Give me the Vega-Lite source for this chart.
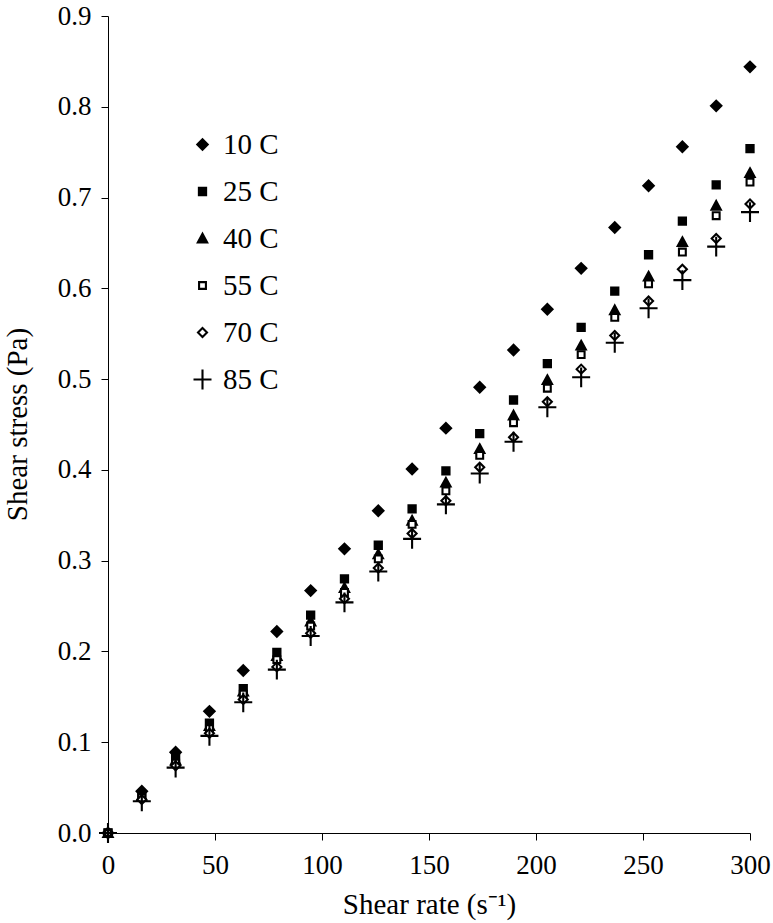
{
  "$schema": "https://vega.github.io/schema/vega-lite/v6.json",
  "autosize": "none",
  "padding": {"left": 108, "top": 16, "right": 23, "bottom": 90},
  "width": 642,
  "height": 817,
  "background": "white",
  "config": {
    "view": {"stroke": null},
    "font": "Liberation Serif",
    "axis": {
      "grid": false,
      "domainColor": "black",
      "domainWidth": 1,
      "tickColor": "black",
      "tickWidth": 1,
      "tickSize": 7,
      "labelColor": "black",
      "labelFont": "Liberation Serif",
      "labelFontSize": 27,
      "labelFlush": false,
      "labelOverlap": false,
      "titleColor": "black",
      "titleFont": "Liberation Serif",
      "titleFontSize": 29,
      "titleFontWeight": "normal"
    }
  },
  "data": {
    "values": [
      {"rate": 0, "stress": 0, "temp": "10 C"},
      {"rate": 15.8, "stress": 0.046, "temp": "10 C"},
      {"rate": 31.6, "stress": 0.089, "temp": "10 C"},
      {"rate": 47.4, "stress": 0.134, "temp": "10 C"},
      {"rate": 63.2, "stress": 0.179, "temp": "10 C"},
      {"rate": 78.9, "stress": 0.222, "temp": "10 C"},
      {"rate": 94.7, "stress": 0.267, "temp": "10 C"},
      {"rate": 110.5, "stress": 0.313, "temp": "10 C"},
      {"rate": 126.3, "stress": 0.355, "temp": "10 C"},
      {"rate": 142.1, "stress": 0.401, "temp": "10 C"},
      {"rate": 157.9, "stress": 0.446, "temp": "10 C"},
      {"rate": 173.7, "stress": 0.491, "temp": "10 C"},
      {"rate": 189.5, "stress": 0.532, "temp": "10 C"},
      {"rate": 205.3, "stress": 0.577, "temp": "10 C"},
      {"rate": 221.1, "stress": 0.622, "temp": "10 C"},
      {"rate": 236.8, "stress": 0.667, "temp": "10 C"},
      {"rate": 252.6, "stress": 0.713, "temp": "10 C"},
      {"rate": 268.4, "stress": 0.756, "temp": "10 C"},
      {"rate": 284.2, "stress": 0.801, "temp": "10 C"},
      {"rate": 300, "stress": 0.844, "temp": "10 C"},

      {"rate": 0, "stress": 0, "temp": "25 C"},
      {"rate": 15.8, "stress": 0.041, "temp": "25 C"},
      {"rate": 31.6, "stress": 0.082, "temp": "25 C"},
      {"rate": 47.4, "stress": 0.121, "temp": "25 C"},
      {"rate": 63.2, "stress": 0.159, "temp": "25 C"},
      {"rate": 78.9, "stress": 0.199, "temp": "25 C"},
      {"rate": 94.7, "stress": 0.240, "temp": "25 C"},
      {"rate": 110.5, "stress": 0.280, "temp": "25 C"},
      {"rate": 126.3, "stress": 0.317, "temp": "25 C"},
      {"rate": 142.1, "stress": 0.357, "temp": "25 C"},
      {"rate": 157.9, "stress": 0.399, "temp": "25 C"},
      {"rate": 173.7, "stress": 0.440, "temp": "25 C"},
      {"rate": 189.5, "stress": 0.477, "temp": "25 C"},
      {"rate": 205.3, "stress": 0.517, "temp": "25 C"},
      {"rate": 221.1, "stress": 0.557, "temp": "25 C"},
      {"rate": 236.8, "stress": 0.597, "temp": "25 C"},
      {"rate": 252.6, "stress": 0.637, "temp": "25 C"},
      {"rate": 268.4, "stress": 0.674, "temp": "25 C"},
      {"rate": 284.2, "stress": 0.714, "temp": "25 C"},
      {"rate": 300, "stress": 0.754, "temp": "25 C"},

      {"rate": 0, "stress": 0, "temp": "40 C"},
      {"rate": 15.8, "stress": 0.040, "temp": "40 C"},
      {"rate": 31.6, "stress": 0.080, "temp": "40 C"},
      {"rate": 47.4, "stress": 0.118, "temp": "40 C"},
      {"rate": 63.2, "stress": 0.156, "temp": "40 C"},
      {"rate": 78.9, "stress": 0.195, "temp": "40 C"},
      {"rate": 94.7, "stress": 0.233, "temp": "40 C"},
      {"rate": 110.5, "stress": 0.270, "temp": "40 C"},
      {"rate": 126.3, "stress": 0.307, "temp": "40 C"},
      {"rate": 142.1, "stress": 0.344, "temp": "40 C"},
      {"rate": 157.9, "stress": 0.386, "temp": "40 C"},
      {"rate": 173.7, "stress": 0.423, "temp": "40 C"},
      {"rate": 189.5, "stress": 0.460, "temp": "40 C"},
      {"rate": 205.3, "stress": 0.499, "temp": "40 C"},
      {"rate": 221.1, "stress": 0.537, "temp": "40 C"},
      {"rate": 236.8, "stress": 0.576, "temp": "40 C"},
      {"rate": 252.6, "stress": 0.613, "temp": "40 C"},
      {"rate": 268.4, "stress": 0.651, "temp": "40 C"},
      {"rate": 284.2, "stress": 0.691, "temp": "40 C"},
      {"rate": 300, "stress": 0.727, "temp": "40 C"},

      {"rate": 0, "stress": 0, "temp": "55 C"},
      {"rate": 15.8, "stress": 0.039, "temp": "55 C"},
      {"rate": 31.6, "stress": 0.077, "temp": "55 C"},
      {"rate": 47.4, "stress": 0.115, "temp": "55 C"},
      {"rate": 63.2, "stress": 0.153, "temp": "55 C"},
      {"rate": 78.9, "stress": 0.191, "temp": "55 C"},
      {"rate": 94.7, "stress": 0.228, "temp": "55 C"},
      {"rate": 110.5, "stress": 0.265, "temp": "55 C"},
      {"rate": 126.3, "stress": 0.302, "temp": "55 C"},
      {"rate": 142.1, "stress": 0.340, "temp": "55 C"},
      {"rate": 157.9, "stress": 0.377, "temp": "55 C"},
      {"rate": 173.7, "stress": 0.416, "temp": "55 C"},
      {"rate": 189.5, "stress": 0.452, "temp": "55 C"},
      {"rate": 205.3, "stress": 0.490, "temp": "55 C"},
      {"rate": 221.1, "stress": 0.527, "temp": "55 C"},
      {"rate": 236.8, "stress": 0.568, "temp": "55 C"},
      {"rate": 252.6, "stress": 0.605, "temp": "55 C"},
      {"rate": 268.4, "stress": 0.640, "temp": "55 C"},
      {"rate": 284.2, "stress": 0.680, "temp": "55 C"},
      {"rate": 300, "stress": 0.717, "temp": "55 C"},

      {"rate": 0, "stress": 0, "temp": "70 C"},
      {"rate": 15.8, "stress": 0.037, "temp": "70 C"},
      {"rate": 31.6, "stress": 0.074, "temp": "70 C"},
      {"rate": 47.4, "stress": 0.110, "temp": "70 C"},
      {"rate": 63.2, "stress": 0.147, "temp": "70 C"},
      {"rate": 78.9, "stress": 0.183, "temp": "70 C"},
      {"rate": 94.7, "stress": 0.220, "temp": "70 C"},
      {"rate": 110.5, "stress": 0.258, "temp": "70 C"},
      {"rate": 126.3, "stress": 0.292, "temp": "70 C"},
      {"rate": 142.1, "stress": 0.330, "temp": "70 C"},
      {"rate": 157.9, "stress": 0.366, "temp": "70 C"},
      {"rate": 173.7, "stress": 0.403, "temp": "70 C"},
      {"rate": 189.5, "stress": 0.436, "temp": "70 C"},
      {"rate": 205.3, "stress": 0.475, "temp": "70 C"},
      {"rate": 221.1, "stress": 0.511, "temp": "70 C"},
      {"rate": 236.8, "stress": 0.548, "temp": "70 C"},
      {"rate": 252.6, "stress": 0.586, "temp": "70 C"},
      {"rate": 268.4, "stress": 0.621, "temp": "70 C"},
      {"rate": 284.2, "stress": 0.655, "temp": "70 C"},
      {"rate": 300, "stress": 0.693, "temp": "70 C"},

      {"rate": 0, "stress": 0, "temp": "85 C"},
      {"rate": 15.8, "stress": 0.035, "temp": "85 C"},
      {"rate": 31.6, "stress": 0.072, "temp": "85 C"},
      {"rate": 47.4, "stress": 0.107, "temp": "85 C"},
      {"rate": 63.2, "stress": 0.144, "temp": "85 C"},
      {"rate": 78.9, "stress": 0.180, "temp": "85 C"},
      {"rate": 94.7, "stress": 0.217, "temp": "85 C"},
      {"rate": 110.5, "stress": 0.254, "temp": "85 C"},
      {"rate": 126.3, "stress": 0.288, "temp": "85 C"},
      {"rate": 142.1, "stress": 0.324, "temp": "85 C"},
      {"rate": 157.9, "stress": 0.362, "temp": "85 C"},
      {"rate": 173.7, "stress": 0.396, "temp": "85 C"},
      {"rate": 189.5, "stress": 0.431, "temp": "85 C"},
      {"rate": 205.3, "stress": 0.469, "temp": "85 C"},
      {"rate": 221.1, "stress": 0.502, "temp": "85 C"},
      {"rate": 236.8, "stress": 0.540, "temp": "85 C"},
      {"rate": 252.6, "stress": 0.578, "temp": "85 C"},
      {"rate": 268.4, "stress": 0.609, "temp": "85 C"},
      {"rate": 284.2, "stress": 0.646, "temp": "85 C"},
      {"rate": 300, "stress": 0.684, "temp": "85 C"}
    ]
  },
  "mark": {"type": "point", "filled": true, "opacity": 1, "stroke": "black", "strokeWidth": 2.1, "size": 324, "clip": false},
  "encoding": {
    "x": {
      "field": "rate",
      "type": "quantitative",
      "scale": {"domain": [0, 300], "nice": false, "zero": false},
      "axis": {
        "values": [0, 50, 100, 150, 200, 250, 300],
        "format": "d",
        "labelPadding": 12,
        "title": "Shear rate (s\u207b\u00b9)",
        "titleY": 80,
        "titleBaseline": "alphabetic"
      }
    },
    "y": {
      "field": "stress",
      "type": "quantitative",
      "scale": {"domain": [0, 0.9], "nice": false, "zero": false},
      "axis": {
        "values": [0, 0.1, 0.2, 0.3, 0.4, 0.5, 0.6, 0.7, 0.8, 0.9],
        "format": ".1f",
        "labelPadding": 10,
        "title": "Shear stress (Pa)",
        "titleAngle": 270,
        "titleX": -82,
        "titleY": 408,
        "titleAlign": "center",
        "titleBaseline": "alphabetic"
      }
    },
    "shape": {
      "field": "temp",
      "type": "nominal",
      "scale": {
        "domain": ["10 C", "25 C", "40 C", "55 C", "70 C", "85 C"],
        "range": [
          "M-0.58,0L0,-0.58L0.58,0L0,0.58Z",
          "M-0.4,-0.4L0.4,-0.4L0.4,0.4L-0.4,0.4Z",
          "M0,-0.52L0.52,0.44L-0.52,0.44Z",
          "M-0.38,-0.38L0.38,-0.38L0.38,0.38L-0.38,0.38Z",
          "M-0.5,0L0,-0.5L0.5,0L0,0.5Z",
          "M-1,0L1,0M0,-1.1L0,1.1"
        ]
      },
      "legend": {
        "title": null,
        "orient": "none",
        "legendX": 80,
        "legendY": 114,
        "labelFont": "Liberation Serif",
        "labelFontSize": 29,
        "labelColor": "black",
        "labelOffset": 6,
        "rowPadding": 17,
        "symbolSize": 324,
        "symbolOpacity": 1,
        "symbolStrokeColor": "black",
        "symbolStrokeWidth": 2.1,
        "encode": {
          "symbols": {
            "update": {
              "stroke": {"value": "black"},
              "strokeWidth": {"value": 2.1},
              "opacity": {"value": 1}
            }
          }
        }
      }
    },
    "fill": {
      "field": "temp",
      "type": "nominal",
      "scale": {
        "domain": ["10 C", "25 C", "40 C", "55 C", "70 C", "85 C"],
        "range": ["black", "black", "black", "white", "white", "transparent"]
      },
      "legend": {
        "title": null,
        "orient": "none",
        "legendX": 80,
        "legendY": 114,
        "labelFont": "Liberation Serif",
        "labelFontSize": 29,
        "labelColor": "black",
        "labelOffset": 6,
        "rowPadding": 17,
        "symbolSize": 324,
        "symbolOpacity": 1,
        "symbolStrokeColor": "black",
        "symbolStrokeWidth": 2.1,
        "encode": {
          "symbols": {
            "update": {
              "stroke": {"value": "black"},
              "strokeWidth": {"value": 2.1},
              "opacity": {"value": 1}
            }
          }
        }
      }
    }
  }
}
